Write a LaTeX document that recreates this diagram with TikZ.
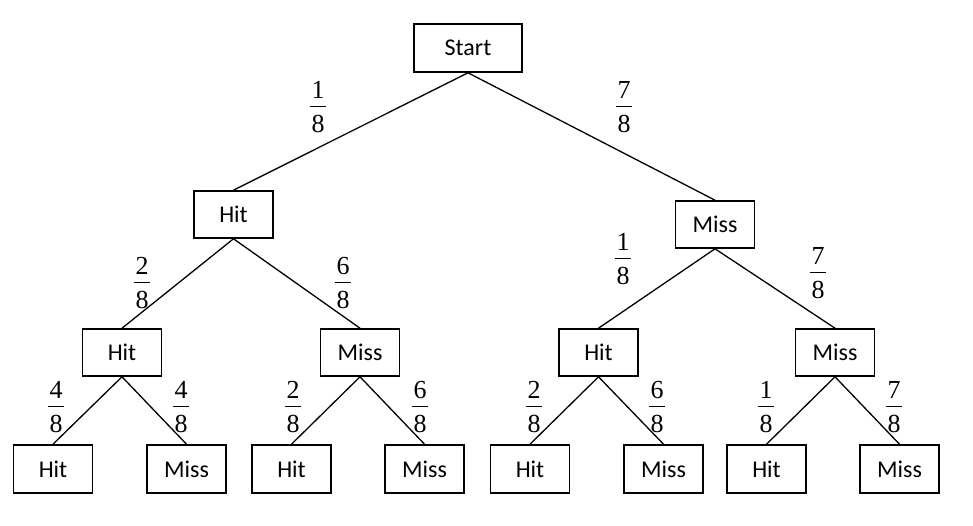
\documentclass[tikz,border=0pt]{standalone}
\usepackage{fontspec}
\setmainfont{Carlito}
\newfontfamily\tnr{Liberation Serif}
\newcommand\myfr[2]{\vbox{\tnr\fontsize{26}{30}\selectfont\offinterlineskip\halign{\hfil\kern1.8pt##\kern1.8pt\hfil\cr#1\cr\noalign{\kern7.5pt\hrule height 1pt\kern7.5pt}#2\cr}}}
\tikzset{
  box/.style={draw, line width=1.6pt, minimum width=79pt, minimum height=47pt, inner sep=0pt, font=\fontsize{24}{28}\selectfont},
  frlab/.style={inner sep=0pt},
  conn/.style={line width=1.3pt}
}
\begin{document}
\begin{tikzpicture}[x=1pt,y=-1pt]
\useasboundingbox (0,0) rectangle (973,526);
\node[box, minimum width=108pt, minimum height=48pt] (start) at (468,48) {Start};
\node[box] (h) at (233.5,214.5) {Hit};
\node[box] (m) at (715,224.5) {Miss};
\node[box] (hh) at (122,352.5) {Hit};
\node[box] (hm) at (360,352.5) {Miss};
\node[box] (mh) at (598.5,352.5) {Hit};
\node[box] (mm) at (835,352.5) {Miss};
\node[box, minimum height=48pt] (hhh) at (53,469) {Hit};
\node[box, minimum height=48pt] (hhm) at (186.5,469) {Miss};
\node[box, minimum height=48pt] (hmh) at (291.5,469) {Hit};
\node[box, minimum height=48pt] (hmm) at (424.5,469) {Miss};
\node[box, minimum height=48pt] (mhh) at (530,469) {Hit};
\node[box, minimum height=48pt] (mhm) at (663.5,469) {Miss};
\node[box, minimum height=48pt] (mmh) at (766.5,469) {Hit};
\node[box, minimum height=48pt] (mmm) at (899.5,469) {Miss};
\draw[conn] (start.south) -- (h.north);
\draw[conn] (start.south) -- (m.north);
\draw[conn] (h.south) -- (hh.north);
\draw[conn] (h.south) -- (hm.north);
\draw[conn] (m.south) -- (mh.north);
\draw[conn] (m.south) -- (mm.north);
\draw[conn] (hh.south) -- (hhh.north);
\draw[conn] (hh.south) -- (hhm.north);
\draw[conn] (hm.south) -- (hmh.north);
\draw[conn] (hm.south) -- (hmm.north);
\draw[conn] (mh.south) -- (mhh.north);
\draw[conn] (mh.south) -- (mhm.north);
\draw[conn] (mm.south) -- (mmh.north);
\draw[conn] (mm.south) -- (mmm.north);
\node[frlab] (f1) at (318,107) {\myfr{1}{8}};
\node[frlab] (f2) at (624,107) {\myfr{7}{8}};
\node[frlab] (f3) at (142,283) {\myfr{2}{8}};
\node[frlab] (f4) at (343,283) {\myfr{6}{8}};
\node[frlab] (f5) at (623,259) {\myfr{1}{8}};
\node[frlab] (f6) at (818,273) {\myfr{7}{8}};
\node[frlab] (f7) at (56,407) {\myfr{4}{8}};
\node[frlab] (f8) at (181,407) {\myfr{4}{8}};
\node[frlab] (f9) at (293,407) {\myfr{2}{8}};
\node[frlab] (f10) at (420,407) {\myfr{6}{8}};
\node[frlab] (f11) at (534,407) {\myfr{2}{8}};
\node[frlab] (f12) at (657,407) {\myfr{6}{8}};
\node[frlab] (f13) at (766,407) {\myfr{1}{8}};
\node[frlab] (f14) at (894,407) {\myfr{7}{8}};
\end{tikzpicture}
\end{document}
